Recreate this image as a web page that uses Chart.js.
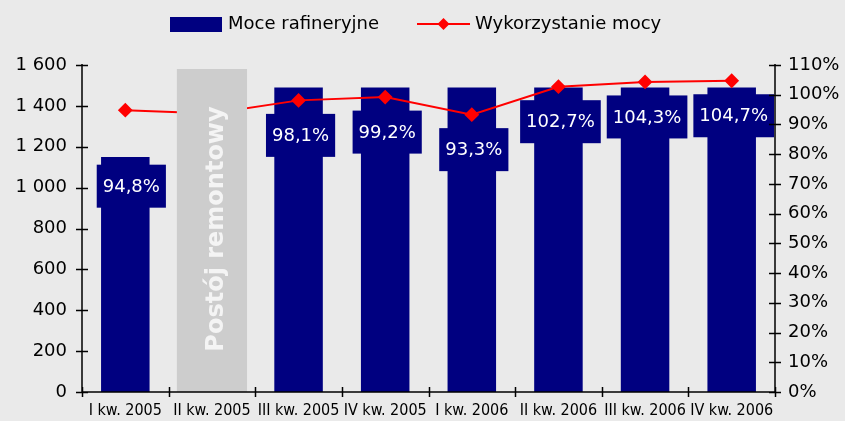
<!DOCTYPE html>
<html>
<head>
<meta charset="utf-8">
<script src="https://cdn.jsdelivr.net/npm/chart.js@4.4.0/dist/chart.umd.min.js"></script>
<style>
  html, body { margin: 0; padding: 0; background: #eaeaea; }
  #wrap { width: 845px; height: 421px; }
</style>
</head>
<body>
<div id="wrap"><canvas id="chart"></canvas></div>
<script>
const categories = ['I kw. 2005', 'II kw. 2005', 'III kw. 2005', 'IV kw. 2005', 'I kw. 2006', 'II kw. 2006', 'III kw. 2006', 'IV kw. 2006'];
const capacity = [1150, null, 1490, 1490, 1490, 1490, 1490, 1490];
const shutdown = [null, 1580, null, null, null, null, null, null];
const utilization = [94.8, 93.7, 98.1, 99.2, 93.3, 102.7, 104.3, 104.7];
const shownLabels = [true, false, true, true, true, true, true, true];
const leftTicks = [0, 200, 400, 600, 800, 1000, 1200, 1400, 1600];

const NAVY = '#000080';
const RED = '#ff0000';
const FONT = '"DejaVu Sans", Verdana, sans-serif';

function pl(v) {
  return v.toFixed(1).replace('.', ',') + '%';
}

// ticks crossing the axis lines + the legend + value boxes
const extras = {
  id: 'extras',
  afterDatasetsDraw(chart) {
    const ctx = chart.ctx;
    const line = chart.getDatasetMeta(1);

    // value boxes under the line points
    ctx.save();
    ctx.font = '18px ' + FONT;
    ctx.textAlign = 'center';
    ctx.textBaseline = 'middle';
    utilization.forEach((v, i) => {
      if (!shownLabels[i]) return;
      const p = line.data[i];
      const txt = pl(v);
      const w = ctx.measureText(txt).width + 12;
      const h = 43;
      const cx = p.x + (i === 0 ? 6 : 2);
      const cy = p.y + (i === 0 ? 76 : 35);
      ctx.fillStyle = NAVY;
      ctx.fillRect(cx - w / 2, cy - h / 2, w, h);
      ctx.fillStyle = '#ffffff';
      ctx.fillText(txt, cx, cy + 1);
    });
    ctx.restore();

    // text on the grey bar
    const g = chart.getDatasetMeta(2).data[1];
    ctx.save();
    ctx.translate(g.x + 5, 229);
    ctx.rotate(-Math.PI / 2);
    ctx.font = 'bold 24px ' + FONT;
    ctx.fillStyle = '#f4f4f4';
    ctx.textAlign = 'center';
    ctx.textBaseline = 'middle';
    ctx.fillText('Postój remontowy', 0, 0);
    ctx.restore();
  },
  afterDraw(chart) {
    const ctx = chart.ctx;
    const { y, y1 } = chart.scales;
    const area = chart.chartArea;
    ctx.save();
    ctx.strokeStyle = '#000';
    ctx.lineWidth = 1.5;
    ctx.beginPath();
    // axis lines
    ctx.moveTo(area.left, area.top - 1);
    ctx.lineTo(area.left, area.bottom);
    ctx.lineTo(area.right, area.bottom);
    ctx.moveTo(area.right, area.top - 1);
    ctx.lineTo(area.right, area.bottom);
    // left ticks
    leftTicks.forEach(t => {
      const py = Math.round(y.getPixelForValue(t)) + 0.5;
      ctx.moveTo(area.left - 6, py);
      ctx.lineTo(area.left + 6, py);
    });
    // right ticks
    for (let t = 0; t <= 110; t += 10) {
      const py = Math.round(y1.getPixelForValue(t)) + 0.5;
      ctx.moveTo(area.right - 6, py);
      ctx.lineTo(area.right + 6, py);
    }
    // category ticks
    for (let i = 0; i <= categories.length; i++) {
      const px = Math.round(area.left + (area.right - area.left) * i / categories.length) + 0.5;
      ctx.moveTo(px, area.bottom - 5);
      ctx.lineTo(px, area.bottom + 5);
    }
    ctx.stroke();

    // legend
    ctx.font = '18px ' + FONT;
    ctx.textBaseline = 'middle';
    ctx.textAlign = 'left';
    const ly = 24;
    ctx.fillStyle = NAVY;
    ctx.fillRect(170, ly - 7, 52, 15);
    ctx.fillStyle = '#000';
    ctx.fillText(chart.data.datasets[0].label, 228, ly);
    ctx.strokeStyle = RED;
    ctx.lineWidth = 2;
    ctx.beginPath();
    ctx.moveTo(417, ly);
    ctx.lineTo(470, ly);
    ctx.stroke();
    ctx.fillStyle = RED;
    ctx.beginPath();
    ctx.moveTo(443.5, ly - 6);
    ctx.lineTo(449.5, ly);
    ctx.lineTo(443.5, ly + 6);
    ctx.lineTo(437.5, ly);
    ctx.closePath();
    ctx.fill();
    ctx.fillStyle = '#000';
    ctx.fillText(chart.data.datasets[1].label, 475, ly);
    ctx.restore();
  }
};

new Chart(document.getElementById('chart'), {
  data: {
    labels: categories,
    datasets: [
      {
        type: 'bar',
        label: 'Moce rafineryjne',
        data: capacity,
        backgroundColor: NAVY,
        yAxisID: 'y',
        grouped: false,
        barPercentage: 0.56,
        categoryPercentage: 1,
        order: 3
      },
      {
        type: 'line',
        label: 'Wykorzystanie mocy',
        data: utilization,
        borderColor: RED,
        backgroundColor: RED,
        borderWidth: 2,
        pointStyle: 'rectRot',
        pointRadius: 6,
        pointHoverRadius: 6,
        yAxisID: 'y1',
        tension: 0,
        order: 2
      },
      {
        type: 'bar',
        label: 'Postój remontowy',
        data: shutdown,
        backgroundColor: '#cdcdcd',
        yAxisID: 'y',
        grouped: false,
        barPercentage: 0.81,
        categoryPercentage: 1,
        order: 1
      }
    ]
  },
  options: {
    responsive: true,
    maintainAspectRatio: false,
    animation: false,
    layout: { padding: { top: 65, left: 0, right: 0, bottom: 0 } },
    plugins: {
      legend: { display: false },
      tooltip: { enabled: false }
    },
    scales: {
      x: {
        grid: { display: false, drawTicks: false },
        border: { display: false },
        afterFit: s => { s.height = 29; },
        ticks: {
          color: '#000',
          font: { family: '"Liberation Sans Narrow", "DejaVu Sans Condensed", "Liberation Serif", serif', size: 16 },
          maxRotation: 0,
          autoSkip: false,
          padding: 9
        }
      },
      y: {
        position: 'left',
        min: 0,
        max: 1600,
        afterBuildTicks: s => { s.ticks = leftTicks.map(v => ({ value: v })); },
        afterFit: s => { s.width = 82; },
        grid: { display: false, drawTicks: false },
        border: { display: false },
        ticks: {
          color: '#000',
          font: { family: FONT, size: 18 },
          padding: 15,
          callback: v => v >= 1000 ? Math.floor(v / 1000) + ' ' + String(v % 1000).padStart(3, '0') : String(v)
        }
      },
      y1: {
        position: 'right',
        min: 0,
        max: 110,
        afterFit: s => { s.width = 70; },
        grid: { display: false, drawTicks: false },
        border: { display: false },
        ticks: {
          color: '#000',
          stepSize: 10,
          font: { family: FONT, size: 18 },
          padding: 13,
          callback: v => v + '%'
        }
      }
    }
  },
  plugins: [extras]
});
</script>
</body>
</html>
